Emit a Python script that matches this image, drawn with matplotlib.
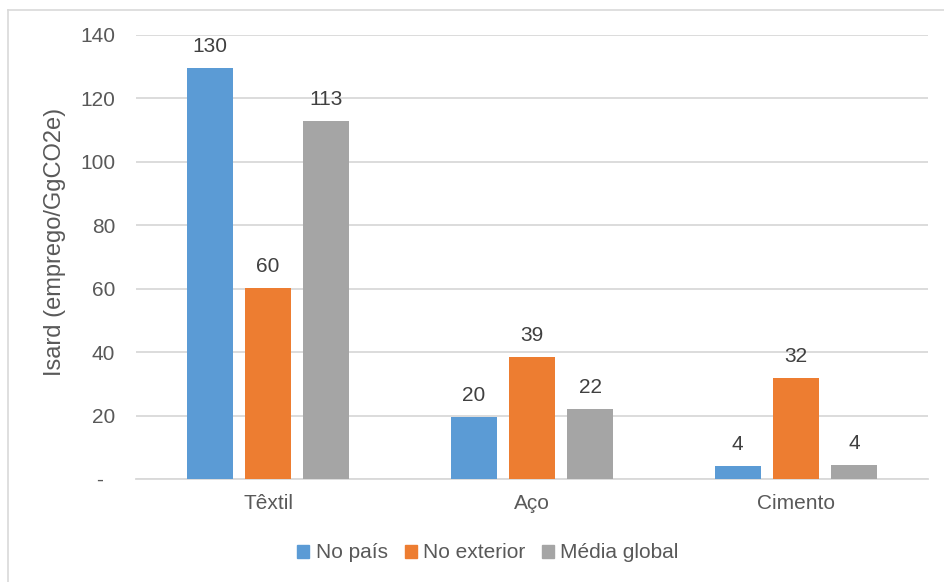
import matplotlib
matplotlib.use("Agg")
import matplotlib.pyplot as plt
import numpy as np
from matplotlib.lines import Line2D

plt.rcParams['font.family'] = ['Liberation Sans', 'DejaVu Sans']

categories = ["Têxtil", "Aço", "Cimento"]
series_names = ["No país", "No exterior", "Média global"]
no_pais = [129.6, 19.6, 4.1]
no_exterior = [60.2, 38.5, 31.9]
media_global = [112.9, 22.1, 4.4]
labels_pais = ["130", "20", "4"]
labels_ext = ["60", "39", "32"]
labels_media = ["113", "22", "4"]
yticks = [0, 20, 40, 60, 80, 100, 120, 140]
ytick_labels = ["-  ", "20", "40", "60", "80", "100", "120", "140"]

colors = ["#5b9bd5", "#ed7d31", "#a5a5a5"]
FS = 15

fig = plt.figure(figsize=(9.44, 5.82), dpi=100)
ax = fig.add_axes([136/944, 1-479/582, 792/944, 444/582])

x = np.arange(len(categories))
w = 0.174
step = 0.221
all_series = [no_pais, no_exterior, media_global]
all_labels = [labels_pais, labels_ext, labels_media]
for i, (vals, labs, c, name) in enumerate(zip(all_series, all_labels, colors, series_names)):
    pos = x + (i - 1) * step
    bars = ax.bar(pos, vals, width=w, color=c, label=name, zorder=3)
    for b, lab in zip(bars, labs):
        ax.annotate(lab, (b.get_x() + b.get_width()/2, b.get_height()),
                    xytext=(0, 11.5), textcoords='offset points',
                    ha='center', va='baseline', fontsize=FS, color='#404040')

ax.set_xlim(-0.5, 2.5)
ax.set_ylim(0, 140)
ax.set_yticks(yticks)
ax.set_yticklabels(ytick_labels)
ax.set_xticks(x)
ax.set_xticklabels(categories)
ax.tick_params(axis='both', length=0, labelsize=FS, colors='#595959')
ax.tick_params(axis='y', pad=15)
ax.tick_params(axis='x', pad=11)
ax.yaxis.grid(True, color='#d9d9d9', linewidth=1.3, zorder=0)
ax.set_axisbelow(True)
for s in ['top', 'right', 'left']:
    ax.spines[s].set_visible(False)
ax.spines['bottom'].set_color('#d9d9d9')
ax.spines['bottom'].set_linewidth(1.3)
ax.set_ylabel("Isard (emprego/GgCO2e)", fontsize=17, color='#595959')
ax.yaxis.set_label_coords((66-136)/792, (479-242)/444)

handles = [plt.Rectangle((0, 0), 1, 1, color=c) for c in colors]
fig.legend(handles, series_names, loc='center', bbox_to_anchor=(488/944, 1-553/582),
           ncol=3, frameon=False, fontsize=FS, handlelength=0.58, handleheight=0.58,
           handletextpad=0.29, columnspacing=0.82, labelcolor='#595959',
           borderpad=0.2)

# outer chart border (top and left edges visible)
fig.add_artist(Line2D([8/944, 1.0], [1-9.5/582, 1-9.5/582], color='#d9d9d9', linewidth=1.2))
fig.add_artist(Line2D([8/944, 8/944], [0, 1-9.5/582], color='#d9d9d9', linewidth=1.2))

fig.savefig("out.png", dpi=100)
